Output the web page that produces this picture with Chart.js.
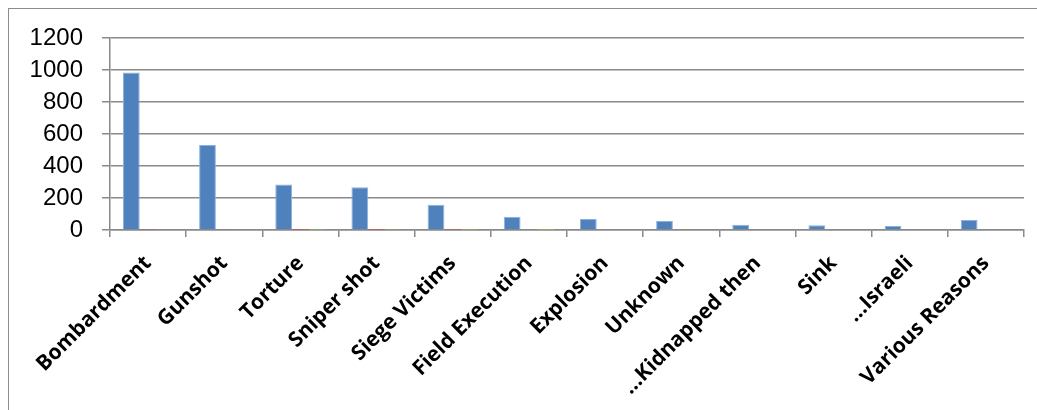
<!DOCTYPE html>
<html>
<head>
<meta charset="utf-8">
<script src="https://cdn.jsdelivr.net/npm/chart.js@4"></script>
<style>
  html, body { margin: 0; padding: 0; background: #fff; overflow: hidden; }
  #wrap { position: relative; width: 1037px; height: 410px; }
  #frame { position: absolute; left: 8px; top: 8px; width: 1040px; height: 420px; border: 1.5px solid #8c8c8c; box-sizing: border-box; }
  canvas { position: absolute; left: 0; top: 0; }
</style>
</head>
<body>
<div id="wrap">
  <div id="frame"></div>
  <canvas id="chart" width="1037" height="410"></canvas>
</div>
<script>
const categories = ['Bombardment', 'Gunshot', 'Torture', 'Sniper shot', 'Siege Victims', 'Field Execution',
  'Explosion', 'Unknown', '...Kidnapped then', 'Sink', '...Israeli', 'Various Reasons'];
const series1 = [985, 531, 285, 267, 158, 83, 69, 56, 33, 29, 25, 62];
const series2 = [3, 4, 1, 1, 2, 0, 0, 0, 0, 0, 0, 0];
const series3 = [0, 0, 2, 3, 2, 1, 0, 0, 0, 0, 0, 0];
const yTicks = [0, 200, 400, 600, 800, 1000, 1200];

const ctx = document.getElementById('chart');
const chart = new Chart(ctx, {
  type: 'bar',
  data: {
    labels: categories,
    datasets: [
      { label: 'Series1', data: series1, backgroundColor: '#4f81bd', borderColor: '#8db0dc', borderWidth: 1 },
      { label: 'Series2', data: series2, backgroundColor: '#c0504d' },
      { label: 'Series3', data: series3, backgroundColor: '#9bbb59' }
    ]
  },
  options: {
    responsive: false,
    animation: false,
    devicePixelRatio: 1,
    layout: { padding: { left: 0, right: 13, top: 38, bottom: 0 } },
    plugins: { legend: { display: false }, tooltip: { enabled: false } },
    datasets: { bar: { categoryPercentage: 0.66, barPercentage: 1 } },
    scales: {
      x: {
        grid: { drawOnChartArea: false, drawTicks: true, tickLength: 7, color: '#8a8a8a', lineWidth: 1.5 },
        border: { color: '#8a8a8a', width: 1.5 },
        ticks: {
          autoSkip: false, minRotation: 45, maxRotation: 45, padding: 14,
          color: '#000', font: { family: 'Open Sans', weight: 'bold', size: 21 }
        },
        afterFit: (scale) => { scale.height = 180; }
      },
      y: {
        min: 0, max: 1200,
        grid: { color: '#8a8a8a', lineWidth: 1.5, tickLength: 8 },
        border: { color: '#8a8a8a', width: 1.5 },
        afterBuildTicks: (scale) => { scale.ticks = yTicks.map(v => ({ value: v })); },
        ticks: {
          padding: 19, color: '#000',
          font: { family: 'Liberation Sans', size: 24 },
          callback: (v) => String(v)
        },
        afterFit: (scale) => { scale.width = 110; }
      }
    }
  }
});
</script>
</body>
</html>
